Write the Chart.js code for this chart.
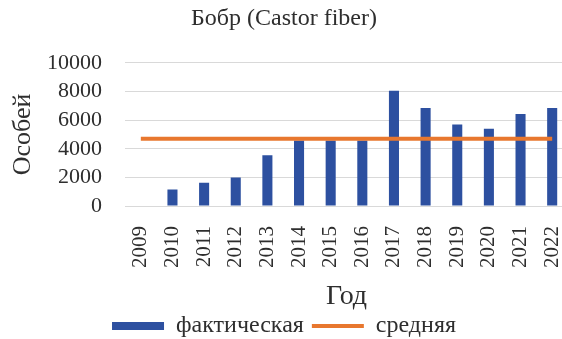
<!DOCTYPE html>
<html>
<head>
<meta charset="utf-8">
<script src="https://cdn.jsdelivr.net/npm/chart.js@4/dist/chart.umd.min.js"></script>
<style>
  html, body { margin: 0; padding: 0; background: #fff; overflow: hidden; }
  #wrap { width: 568px; height: 339px; }
</style>
</head>
<body>
<div id="wrap"><canvas id="myChart"></canvas></div>
<script>
// years and counts
const years = ["2009", "2010", "2011", "2012", "2013", "2014", "2015", "2016", "2017", "2018", "2019", "2020", "2021", "2022"];
const actual = [0, 1160, 1620, 1990, 3540, 4580, 4580, 4580, 8050, 6850, 5690, 5390, 6430, 6850];
const average = [4700, 4700, 4700, 4700, 4700, 4700, 4700, 4700, 4700, 4700, 4700, 4700, 4700, 4700];
const yTicks = [0, 2000, 4000, 6000, 8000, 10000];

const serif = "'Liberation Serif', 'DejaVu Serif', serif";
const textColor = "#2e2e2e";

const ctx = document.getElementById('myChart').getContext('2d');
const myChart = new Chart(ctx, {
  data: {
    labels: years,
    datasets: [
      {
        type: 'line',
        label: 'средняя',
        data: average,
        borderColor: '#e8772e',
        backgroundColor: '#e8772e',
        borderWidth: 4,
        pointRadius: 0,
        pointStyle: 'line',
        order: 0
      },
      {
        type: 'bar',
        label: 'фактическая',
        data: actual,
        backgroundColor: '#2d50a0',
        borderWidth: 0,
        barPercentage: 0.6,
        categoryPercentage: 0.53,
        pointStyle: 'rect',
        order: 1
      }
    ]
  },
  options: {
    responsive: true,
    maintainAspectRatio: false,
    animation: false,
    layout: { padding: { left: 0, right: 0, top: 0, bottom: -9 } },
    plugins: {
      title: {
        display: true,
        text: 'Бобр (Castor fiber)',
        color: textColor,
        font: { family: serif, size: 24, weight: 'normal' },
        padding: { top: 4, bottom: 30 }
      },
      legend: {
        position: 'bottom',
        reverse: true,
        labels: {
          color: textColor,
          font: { family: serif, size: 24 },
          usePointStyle: true,
          pointStyleWidth: 52,
          boxHeight: 8,
          padding: 8
        }
      },
      tooltip: { enabled: false }
    },
    scales: {
      x: {
        grid: { display: false },
        border: { display: false },
        ticks: {
          color: textColor,
          font: { family: serif, size: 21 },
          minRotation: 90,
          maxRotation: 90,
          autoSkip: false,
          padding: 12
        },
        title: {
          display: true,
          text: 'Год',
          color: textColor,
          font: { family: serif, size: 28, lineHeight: 0.7 },
          padding: { top: 4, bottom: 0 }
        },
        afterFit: (scale) => {
          scale.height = 100;
          scale.paddingLeft = 0;
          scale.paddingRight = 0;
        }
      },
      y: {
        min: 0,
        max: 10000,
        afterBuildTicks: (scale) => { scale.ticks = yTicks.map(v => ({ value: v })); },
        grid: { color: '#d9d9d9', lineWidth: 1, drawTicks: false },
        border: { display: false },
        ticks: {
          color: textColor,
          font: { family: serif, size: 22 },
          padding: 23,
          autoSkip: false,
          callback: (v) => String(v)
        },
        title: {
          display: true,
          text: 'Особей',
          color: textColor,
          font: { family: serif, size: 26 },
          padding: { top: 8, bottom: 4 }
        },
        afterFit: (scale) => { scale.width = 125; }
      }
    }
  }
});
</script>
</body>
</html>
